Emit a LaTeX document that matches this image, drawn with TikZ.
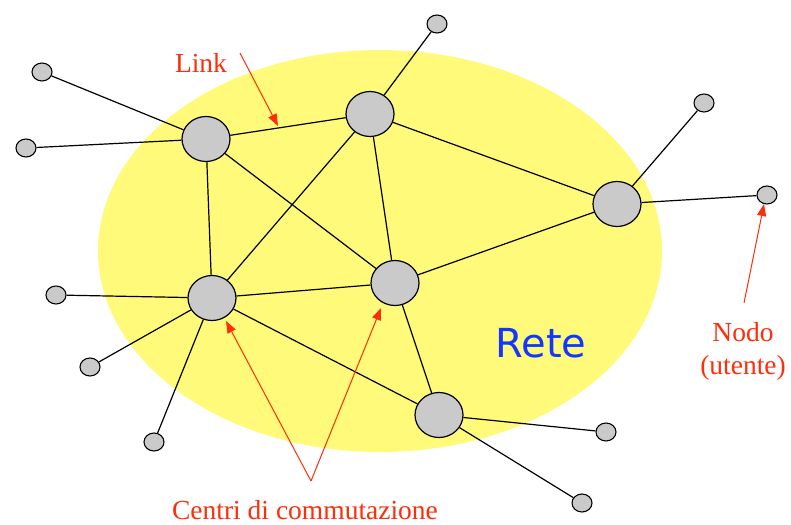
\documentclass[tikz,border=0pt]{standalone}
\usepackage{fontspec}
\setmainfont{Liberation Serif}
\newfontfamily\retefont{DejaVu Sans}
\usetikzlibrary{arrows.meta,shapes.geometric}
\definecolor{netyellow}{RGB}{255,250,122}
\definecolor{nodegrey}{RGB}{202,202,202}
\definecolor{labred}{RGB}{255,45,10}
\definecolor{reteblue}{RGB}{20,55,255}
\pgfdeclarelayer{area}
\pgfdeclarelayer{links}
\pgfsetlayers{area,links,main}
\tikzset{
  centro/.style={ellipse, draw=black, line width=1.2pt, fill=nodegrey, minimum width=48pt, minimum height=45pt, inner sep=0pt},
  utente/.style={ellipse, draw=black, line width=1.1pt, fill=nodegrey, minimum width=20pt, minimum height=18pt, inner sep=0pt},
  linkline/.style={draw=black, line width=1.2pt},
  callout/.style={draw=labred, line width=1pt, -{Triangle[length=12pt,width=9pt]}},
  redlabel/.style={text=labred, inner sep=0pt, font=\fontsize{27.5}{33}\selectfont}
}
\begin{document}
\begin{tikzpicture}[x=1pt,y=-1pt]
\useasboundingbox (0,0) rectangle (791,524);
% switching centres
\node[centro] (A) at (206,139) {};
\node[centro] (B) at (370,114) {};
\node[centro] (C) at (617,204) {};
\node[centro] (D) at (212,298) {};
\node[centro] (E) at (395,283) {};
\node[centro] (F) at (439,415) {};
% user nodes
\node[utente] (s1) at (42,72) {};
\node[utente] (s2) at (26,148) {};
\node[utente] (s3) at (437,24) {};
\node[utente] (s4) at (704,103) {};
\node[utente] (s5) at (767,195) {};
\node[utente] (s6) at (56,295) {};
\node[utente] (s7) at (90,367) {};
\node[utente] (s8) at (154,442) {};
\node[utente] (s9) at (606,432) {};
\node[utente] (s10) at (582,503) {};
% network area
\begin{pgfonlayer}{area}
\fill[netyellow] (380,251) ellipse [x radius=282, y radius=201];
\end{pgfonlayer}
% links
\begin{pgfonlayer}{links}
\foreach \a/\b in {A/s1,A/s2,A/B,A/D,A/E,B/s3,B/C,B/D,B/E,C/s4,C/s5,C/E,D/s6,D/s7,D/s8,D/E,D/F,E/F,F/s9,F/s10}
  \draw[linkline] (\a) -- (\b);
\end{pgfonlayer}
% labels
\node[redlabel, anchor=base] (linklab) at (201,73) {Link};
\node[redlabel, align=center] (nodolab) at (743,351) {Nodo\\(utente)};
\node[redlabel, anchor=base] (centrilab) at (305,519) {Centri di commutazione};
\node[text=reteblue, inner sep=0pt, anchor=base, font=\retefont\fontsize{40}{46}\selectfont] (rete) at (541,357) {Rete};
% callouts
\coordinate (linktail) at (240,53);
\coordinate (linktip) at (278,126);
\coordinate (nodotail) at (744,303);
\coordinate (nodotip) at (764,204);
\coordinate (apex) at (311,481);
\coordinate (tipD) at (226,321);
\coordinate (tipE) at (381,308);
\draw[callout] (linktail) -- (linktip);
\draw[callout] (nodotail) -- (nodotip);
\draw[callout] (apex) -- (tipD);
\draw[callout] (apex) -- (tipE);
\end{tikzpicture}
\end{document}
